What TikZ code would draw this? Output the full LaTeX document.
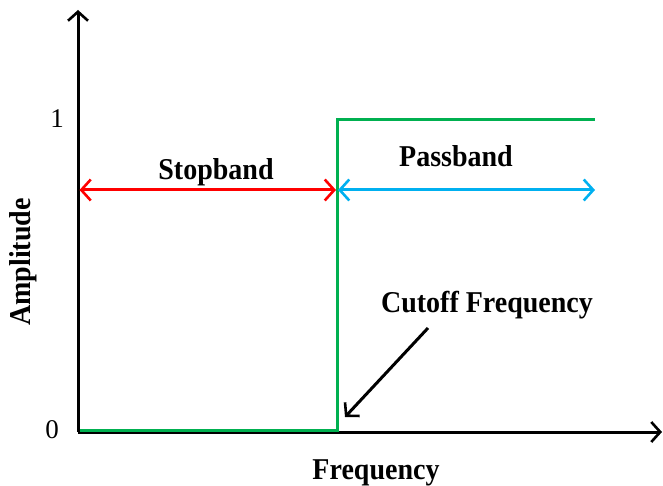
\documentclass[tikz,border=0pt]{standalone}
\usepackage{fontspec}
\setmainfont{Liberation Serif}
\usetikzlibrary{arrows.meta}
\definecolor{lgreen}{RGB}{0,176,80}
\definecolor{lred}{RGB}{255,0,0}
\definecolor{lblue}{RGB}{0,176,240}
\newcommand{\tallbf}[1]{\scalebox{1}[1.08]{\bfseries #1}}
\begin{document}
\begin{tikzpicture}[x=1pt,y=1pt,
  tip/.style={-{Straight Barb[length=9pt,width=20pt,line width=2.6pt]}},
  axis/.style={line width=3pt,tip},
  band/.style={line width=3pt,{Straight Barb[length=9.5pt,width=21pt,line width=2.6pt]}-{Straight Barb[length=9.5pt,width=21pt,line width=2.6pt]}},
  lbl/.style={font=\fontsize{28}{30}\selectfont, inner sep=0pt},
  tick/.style={font=\fontsize{27}{29}\selectfont, inner sep=0pt}]
\useasboundingbox (0,0) rectangle (663,485);
\coordinate (O) at (78,53);
\coordinate (ytop) at (78,475);
\coordinate (xright) at (662,53);
\draw[axis] (O) -- (ytop);
\draw[axis] (O) -- (xright);
% response
\coordinate (g0) at (80,55);
\coordinate (g1) at (337,55);
\coordinate (g2) at (337,365);
\coordinate (g3) at (595,365);
\draw[lgreen, line width=3pt] (g0) -- (g1) -- (g2) -- (g3);
% bands
\coordinate (r0) at (79.5,295);
\coordinate (r1) at (336,295);
\coordinate (b0) at (338,295);
\coordinate (b1) at (595,295);
\draw[band, lred] (r0) -- (r1);
\draw[band, lblue] (b0) -- (b1);
% labels
\node[lbl, anchor=base] (stop) at (216,305) {\tallbf{Stopband}};
\node[lbl, anchor=base] (pass) at (456,318) {\tallbf{Passband}};
\node[lbl, anchor=base] (cut) at (487,173) {\tallbf{Cutoff Frequency}};
\node[lbl, anchor=base] (freq) at (376,6) {\tallbf{Frequency}};
\node[lbl, rotate=90] (amp) at (23,223) {\tallbf{Amplitude}};
\node[tick] (one) at (57,366) {1};
\node[tick] (zero) at (52,55) {0};
% cutoff arrow
\coordinate (c0) at (428,157);
\coordinate (c1) at (345,68);
\draw[line width=3pt,tip] (c0) -- (c1);
\end{tikzpicture}
\end{document}
